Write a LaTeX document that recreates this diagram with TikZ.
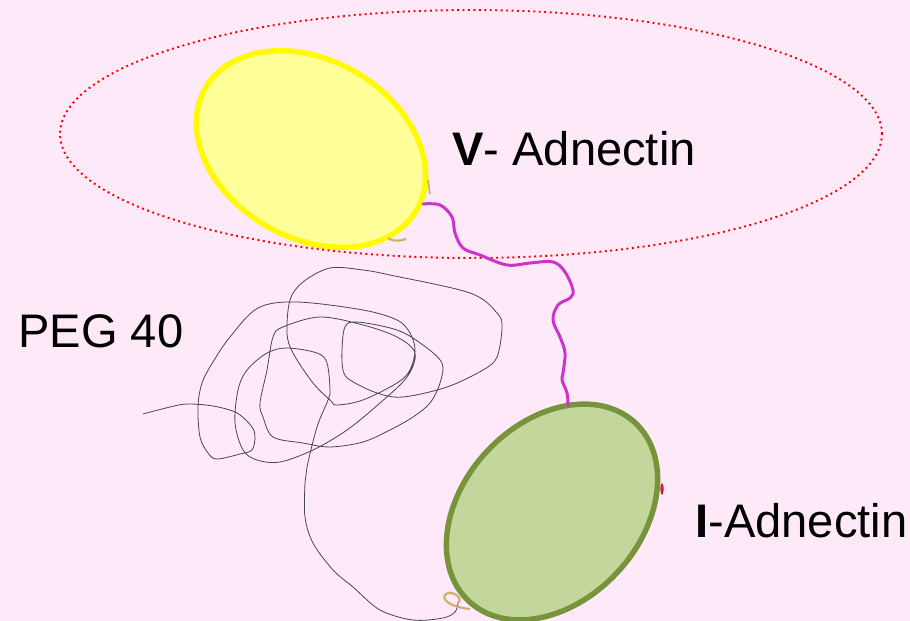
\documentclass[tikz,border=0pt]{standalone}
\usepackage{fontspec}
\setmainfont{Liberation Sans}
\usepackage{tikz}
\usetikzlibrary{shapes.geometric}
\definecolor{slidebg}{RGB}{254,233,248}
\definecolor{vfill}{RGB}{255,255,153}
\definecolor{vline}{RGB}{255,250,0}
\definecolor{ifill}{RGB}{195,214,155}
\definecolor{iline}{RGB}{119,147,60}
\definecolor{linkmag}{RGB}{204,51,204}
\definecolor{pegline}{RGB}{70,70,70}
\definecolor{tanbit}{RGB}{205,175,110}
\definecolor{redbit}{RGB}{200,30,60}
\tikzset{
  protdom/.style={ellipse, minimum width=4.88cm, minimum height=3.56cm,
    line width=3.1pt, inner sep=0pt},
  vdom/.style={protdom, draw=vline, fill=vfill},
  idom/.style={protdom, draw=iline, fill=ifill},
  zone/.style={ellipse, draw=red, dotted, line width=1.1pt,
    minimum width=16.44cm, minimum height=4.96cm, inner sep=0pt},
  lbl/.style={anchor=base west, inner sep=0pt, font=\fontsize{26.8}{31}\selectfont},
  linker/.style={linkmag, line width=1.7pt, line cap=round},
  peg/.style={pegline, line width=0.45pt},
}
\begin{document}
\begin{tikzpicture}[x=0.02cm, y=-0.02cm]

% ── Page ──
\fill[slidebg] (0,0) rectangle (910,621);
\useasboundingbox (0,0) rectangle (910,621);

% ── Domains ──
\node[vdom, rotate=-30] (vad) at (311,149) {};
\node[idom, rotate=47] (iad) at (552,512) {};
\draw[tanbit, line width=1.2pt] (388,238) arc[start angle=200, end angle=330, x radius=0.2cm, y radius=0.08cm];
\draw[tanbit, line width=1pt] (428,180) -- (430,194);
\fill[redbit] (662,489) ellipse[x radius=1.6, y radius=6];

% ── Red zone round V ──
\node[zone] (vzone) at (471,134) {};

% ── Linker V -> I ──
\coordinate (vlink) at (423,204);
\coordinate (ilink) at (568,405);
\draw[linker] plot[smooth, tension=0.6] coordinates {(vlink) (440,205) (452,217) (455,233)
  (463,248) (480,255) (507,265) (530,263) (553,262) (565,272) (573,290) (570,298)
  (558,305) (553,320) (560,337) (565,353) (563,373) (562,380) (567,393) (ilink)};

% ── PEG coil ──
\coordinate (pegend) at (458,603);
\draw[peg] plot[smooth, tension=0.55] coordinates {(143,414) (170,407) (187,404) (213,406)
  (237,413) (252,427) (255,437) (252,450) (240,454) (217,459) (208,453) (200,437)
  (198,407) (202,383) (213,362) (230,337) (258,308) (297,302) (363,310) (397,320)
  (410,333) (415,350) (410,370) (397,383) (363,400) (337,405) (330,400) (313,383)
  (293,353) (287,333) (290,300) (303,282) (330,268) (363,270) (390,275) (470,293)
  (497,313) (502,327) (497,357) (483,370) (447,387) (403,397) (377,393) (350,380)
  (343,370) (342,350) (345,327) (357,322) (397,330) (423,345) (442,363) (440,383)
  (430,403) (413,417) (390,430) (363,442) (330,447) (303,443) (273,437) (263,417)
  (260,403) (267,370) (273,337) (283,327) (320,317) (363,325) (397,337) (415,353)
  (407,377) (380,403) (347,430) (313,450) (280,462) (257,460) (243,450) (235,423)
  (238,390) (247,370) (267,353) (287,348) (317,353) (327,363) (330,390) (328,400)
  (317,427) (307,467) (305,483) (305,517) (313,543) (333,570) (353,587) (380,610)
  (413,620) (443,618) (455,612) (pegend)};
\draw[tanbit, line width=1.2pt] (pegend) .. controls (464,598) and (452,590) .. (446,594)
  .. controls (440,599) and (450,607) .. (470,609);

% ── Labels ──
\node[lbl] (vlbl) at (452,166) {\textbf{V}- Adnectin};
\node[lbl] (ilbl) at (695,538) {\textbf{I}-Adnectin};
\node[lbl] (peglbl) at (18,348) {PEG 40};

\end{tikzpicture}
\end{document}
